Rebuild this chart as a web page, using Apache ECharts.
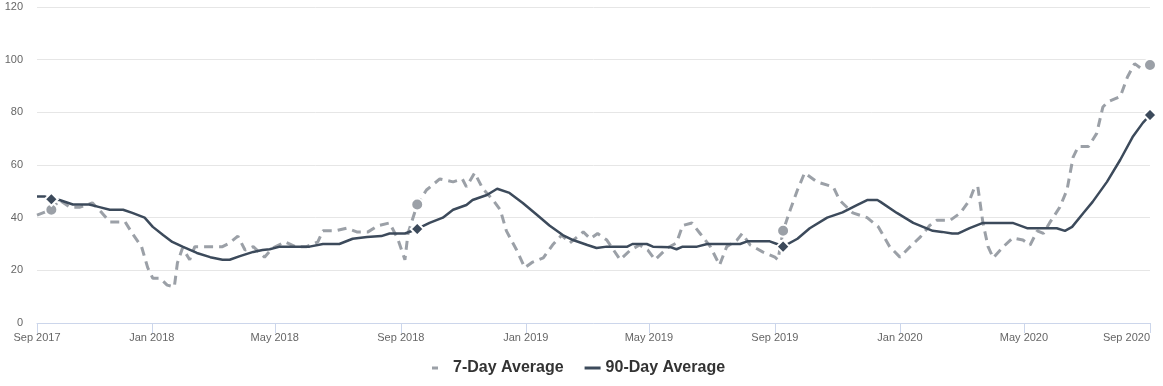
<!DOCTYPE html>
<html>
<head>
<meta charset="utf-8">
<script src="https://cdn.jsdelivr.net/npm/echarts@6/dist/echarts.min.js"></script>
<style>
html,body{margin:0;padding:0;background:#fff;}
#chart{width:1163px;height:386px;}
</style>
</head>
<body>
<div id="chart"></div>
<script>
// ---- data ----
const dates7 = ['2017-09-11','2017-09-25','2017-10-03','2017-10-13','2017-10-23','2017-11-04','2017-11-13','2017-11-21','2017-12-06','2017-12-13','2017-12-22','2017-12-28','2018-01-02','2018-01-09','2018-01-16','2018-01-23','2018-01-26','2018-01-31','2018-02-07','2018-02-12','2018-02-27','2018-03-11','2018-03-18','2018-03-26','2018-04-02','2018-04-10','2018-04-21','2018-04-29','2018-05-11','2018-05-21','2018-06-01','2018-06-12','2018-06-17','2018-06-29','2018-07-10','2018-07-20','2018-07-31','2018-08-10','2018-08-21','2018-08-29','2018-09-05','2018-09-08','2018-09-17','2018-09-26','2018-10-09','2018-10-22','2018-10-31','2018-11-04','2018-11-12','2018-11-20','2018-11-30','2018-12-07','2018-12-13','2018-12-23','2018-12-31','2019-01-07','2019-01-18','2019-01-27','2019-02-05','2019-02-13','2019-02-26','2019-03-05','2019-03-12','2019-03-21','2019-04-03','2019-04-13','2019-04-22','2019-04-30','2019-05-07','2019-05-19','2019-05-28','2019-06-03','2019-06-12','2019-06-20','2019-06-30','2019-07-09','2019-07-16','2019-07-26','2019-07-31','2019-08-08','2019-08-20','2019-09-01','2019-09-04','2019-09-09','2019-09-16','2019-09-23','2019-09-30','2019-10-12','2019-10-28','2019-11-03','2019-11-16','2019-11-30','2019-12-11','2019-12-22','2020-01-01','2020-01-11','2020-01-21','2020-01-30','2020-02-06','2020-02-19','2020-02-29','2020-03-09','2020-03-14','2020-03-17','2020-03-22','2020-03-27','2020-04-01','2020-04-11','2020-04-20','2020-04-30','2020-05-07','2020-05-14','2020-05-20','2020-05-26','2020-06-05','2020-06-12','2020-06-18','2020-06-23','2020-07-03','2020-07-11','2020-07-17','2020-07-22','2020-08-03','2020-08-10','2020-08-17','2020-08-24','2020-09-01'];
const values7 = [41,43,46.7,44,44,45.6,42,38.4,38.4,34,29,21,17,17,14.4,13.7,22.8,28.5,24,29,29,29,30.4,33,27.7,29,25,28.5,30.8,29,29,30.8,35,35,36,34.6,34.6,37,38,32,24,34,45,50.5,54.7,53.6,54.7,51.7,57,51,46.7,43,35,27.7,21,23,24.7,29.6,33.4,30.4,34.6,32,34,31.5,24,27.7,29.6,27.7,24,28.5,30.4,37,38,34,29,22,29,31.5,34,29.6,27,25,24,35,43,50.5,57,53.6,51.7,46.7,41.8,40,36.5,29,25,29,32.7,37,39,39,41.8,46.7,51.7,51.7,38,29,24.7,29,32.3,31.5,29.6,35,34,38,44,50.5,63,67,67,72,82,84,86,93.4,98.5,96.5,98];

const dates90 = ['2017-09-11','2017-09-19','2017-09-25','2017-10-03','2017-10-16','2017-11-01','2017-11-11','2017-11-21','2017-12-04','2017-12-13','2017-12-25','2018-01-02','2018-01-12','2018-01-21','2018-01-31','2018-02-14','2018-02-27','2018-03-11','2018-03-18','2018-03-28','2018-04-10','2018-04-19','2018-04-26','2018-05-06','2018-05-23','2018-06-04','2018-06-17','2018-07-03','2018-07-16','2018-07-30','2018-08-13','2018-08-21','2018-09-05','2018-09-17','2018-09-29','2018-10-12','2018-10-22','2018-11-04','2018-11-10','2018-11-24','2018-12-04','2018-12-16','2018-12-29','2019-01-12','2019-01-24','2019-02-06','2019-02-16','2019-03-02','2019-03-11','2019-03-21','2019-04-10','2019-04-15','2019-04-29','2019-05-05','2019-05-22','2019-05-28','2019-06-03','2019-06-17','2019-06-27','2019-07-29','2019-08-05','2019-08-27','2019-09-03','2019-09-09','2019-09-23','2019-10-05','2019-10-22','2019-11-06','2019-11-20','2019-11-30','2019-12-10','2019-12-13','2019-12-29','2020-01-14','2020-02-02','2020-02-11','2020-02-21','2020-02-27','2020-03-09','2020-03-22','2020-04-20','2020-05-04','2020-06-02','2020-06-10','2020-06-17','2020-06-28','2020-07-07','2020-07-21','2020-08-03','2020-08-15','2020-08-25','2020-09-01'];
const values90 = [48,48,47,46.7,45,45,44,43,43,41.8,40,36.5,33.4,30.8,29,26.6,25,24,24,25.4,27,27.7,28,29,29,29,30,30,32,32.7,33,34,34,35.7,38,40,43,44.8,46.7,48.6,51,49.4,45.6,41,37,33.4,31.5,29.6,28.5,29,29,30,30,29,28.8,28,29,29,30,30,31,31,30,29,32,36,40,42,44.8,46.7,46.7,46,41.8,38,35,34.6,34,34,36,38,38,36,36,35,36.5,41.8,46,53.6,62,70.6,76,79];

const markerDates = ['2017-09-25','2018-09-17','2019-09-09','2020-09-01'];

const tickDates = ['2017-09-11','2018-01-01','2018-05-01','2018-09-01','2019-01-01','2019-05-01','2019-09-01','2020-01-01','2020-05-01','2020-09-01'];
const tickLabels = ['Sep 2017','Jan 2018','May 2018','Sep 2018','Jan 2019','May 2019','Sep 2019','Jan 2020','May 2020','Sep 2020'];

const yTicks = [0,20,40,60,80,100,120];

// ---- build ----
const FONT = '"Liberation Sans", Arial, sans-serif';
const C7 = '#9ba0a7';
const C90 = '#3c4a5b';

function toTime(s){ const p = s.split('-').map(Number); return Date.UTC(p[0], p[1]-1, p[2]); }
const tickTimes = tickDates.map(toTime);

function buildData(dates, values, markerSymbol, color, size){
  return dates.map((d, i) => {
    const v = [toTime(d), values[i]];
    if (markerDates.indexOf(d) >= 0) {
      return { value: v, symbol: markerSymbol, symbolSize: size,
        itemStyle: { color: color, borderColor: '#ffffff', borderWidth: 2 } };
    }
    return { value: v };
  });
}

const chart = echarts.init(document.getElementById('chart'), null, {renderer:'canvas'});
chart.setOption({
  animation: false,
  backgroundColor: '#ffffff',
  textStyle: { fontFamily: FONT },
  grid: { left: 37, right: 13, top: 7, bottom: 63, containLabel: false, outerBoundsMode: 'none' },
  legend: {
    bottom: 5,
    left: 427,
    itemWidth: 16,
    itemHeight: 3,
    itemGap: 21,
    textStyle: { fontSize: 16, fontWeight: 'bold', color: '#333333', fontFamily: FONT },
    data: [
      { name: '7-Day Average', icon: 'path://M0,0H6V3H0Z M16,0L16,3Z', itemStyle: { color: C7 } },
      { name: '90-Day Average', icon: 'path://M0,0H16V3H0Z', itemStyle: { color: C90 } }
    ]
  },
  xAxis: {
    type: 'value',
    min: tickTimes[0],
    max: tickTimes[tickTimes.length - 1],
    axisLine: { show: true, lineStyle: { color: '#ccd6eb', width: 1 } },
    axisTick: { show: true, length: 10, lineStyle: { color: '#ccd6eb' }, customValues: tickTimes },
    splitLine: { show: false },
    axisLabel: {
      customValues: tickTimes,
      color: '#666666',
      fontSize: 11,
      fontFamily: FONT,
      margin: 9,
      showMinLabel: true,
      showMaxLabel: true,
      alignMaxLabel: 'right',
      formatter: function (val) {
        let best = 0, bd = Infinity;
        for (let i = 0; i < tickTimes.length; i++) {
          const d = Math.abs(tickTimes[i] - val);
          if (d < bd) { bd = d; best = i; }
        }
        return tickLabels[best];
      }
    }
  },
  yAxis: {
    type: 'value',
    min: yTicks[0],
    max: yTicks[yTicks.length - 1],
    interval: 20,
    axisLine: { show: false },
    axisTick: { show: false },
    splitLine: { show: true, lineStyle: { color: '#e6e6e6', width: 1 } },
    axisLabel: { color: '#666666', fontSize: 11, fontFamily: FONT, margin: 14 }
  },
  series: [
    {
      name: '7-Day Average',
      type: 'line',
      symbol: 'none',
      showSymbol: true,
      color: C7,
      lineStyle: { color: C7, width: 3, type: [9, 6] },
      itemStyle: { color: C7 },
      emphasis: { disabled: true },
      data: buildData(dates7, values7, 'circle', C7, 12),
      z: 2
    },
    {
      name: '90-Day Average',
      type: 'line',
      symbol: 'none',
      showSymbol: true,
      color: C90,
      lineStyle: { color: C90, width: 2.5 },
      itemStyle: { color: C90 },
      emphasis: { disabled: true },
      data: buildData(dates90, values90, 'diamond', C90, 13),
      z: 3
    }
  ]
});
</script>
</body>
</html>
